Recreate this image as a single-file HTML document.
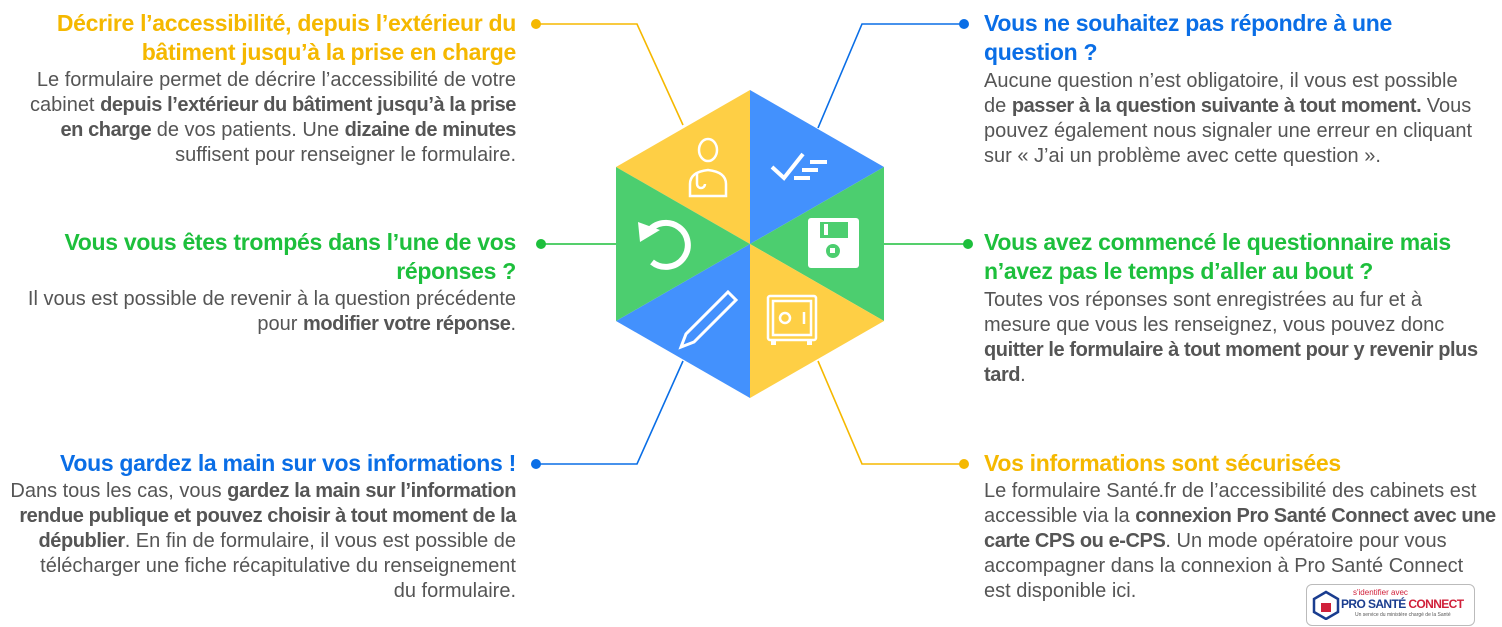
<!DOCTYPE html>
<html><head><meta charset="utf-8"><style>
body{margin:0;width:1502px;height:627px;background:#fff;position:relative;overflow:hidden;font-family:"Liberation Sans",sans-serif}
.l{position:absolute;white-space:nowrap;font-size:20px;color:#555;line-height:25px}
.L{right:986px;text-align:right}
.R{left:984px;text-align:left}
.h{font-weight:bold;font-size:23px;letter-spacing:-0.3px;line-height:29px}
b{color:#555;letter-spacing:-0.42px}
.y{color:#f5b800}.bl{color:#0a6ee6}.g{color:#1dbf3c}
</style></head><body>
<svg width="1502" height="627" style="position:absolute;left:0;top:0">
<g fill="none" stroke-width="1.6">
<polyline points="683,125 637,24 536,24" stroke="#f5b800"/>
<polyline points="818,128 862,24 964,24" stroke="#0a6ee6"/>
<polyline points="616,244 541,244" stroke="#1dbf3c"/>
<polyline points="884,244 968,244" stroke="#1dbf3c"/>
<polyline points="683,361 637,464 536,464" stroke="#0a6ee6"/>
<polyline points="818,361 862,464 964,464" stroke="#f5b800"/>
</g>
<circle cx="536" cy="24" r="5" fill="#f5b800"/><circle cx="964" cy="24" r="5" fill="#0a6ee6"/>
<circle cx="541" cy="244" r="5" fill="#1dbf3c"/><circle cx="968" cy="244" r="5" fill="#1dbf3c"/>
<circle cx="536" cy="464" r="5" fill="#0a6ee6"/><circle cx="964" cy="464" r="5" fill="#f5b800"/>
<polygon points="750,244 750,90 616,167" fill="#fecf45"/>
<polygon points="750,244 750,90 884,167" fill="#4391fd"/>
<polygon points="750,244 884,167 884,321" fill="#4cce6f"/>
<polygon points="750,244 884,321 750,398" fill="#fecf45"/>
<polygon points="750,244 750,398 616,321" fill="#4391fd"/>
<polygon points="750,244 616,321 616,167" fill="#4cce6f"/>
<g fill="none" stroke="#fff" stroke-width="2.5">
<ellipse cx="708" cy="150" rx="9" ry="11"/>
<path d="M690,196 v-12 q0,-12 18,-14 q18,2 18,14 v12 z"/>
<path d="M697,172 v12 a4,4 0 0 0 8,0"/>
</g>
<g stroke="#fff" stroke-width="4" fill="none"><polyline points="772,167 784,178 803,154"/><line x1="810" y1="162" x2="827" y2="162"/><line x1="802" y1="170" x2="818" y2="170"/><line x1="794" y1="178" x2="810" y2="178"/></g>
<rect x="808" y="218" width="51" height="50" rx="3" fill="#fff"/>
<rect x="820" y="222" width="28" height="16" fill="#4cce6f"/><rect x="824" y="224" width="4" height="11" fill="#fff"/>
<circle cx="833" cy="251" r="7" fill="#4cce6f"/><rect x="830" y="248" width="5" height="5" fill="#fff"/>
<path d="M648,232 A22,22 0 1 1 652,262" fill="none" stroke="#fff" stroke-width="6"/>
<polygon points="638,222 660,230 640,242" fill="#fff"/>
<g fill="none" stroke="#fff" stroke-width="3"><path d="M728,292 l8,8 l-42,42 l-13,5 l5,-13 z"/></g>
<g fill="none" stroke="#fff" stroke-width="2.5"><rect x="768" y="296" width="48" height="44" rx="2"/><rect x="773" y="301" width="38" height="34"/><circle cx="785" cy="318" r="5"/><line x1="804" y1="312" x2="804" y2="324"/></g>
<rect x="771" y="340" width="5" height="5" fill="#fff"/><rect x="807" y="340" width="5" height="5" fill="#fff"/>
</svg>

<div class="l L h y" style="top:9px">Décrire l’accessibilité, depuis l’extérieur du</div>
<div class="l L h y" style="top:38px">bâtiment jusqu’à la prise en charge</div>
<div class="l L" style="top:68px">Le formulaire permet de décrire l’accessibilité de votre</div>
<div class="l L" style="top:93px">cabinet <b>depuis l’extérieur du bâtiment jusqu’à la prise</b></div>
<div class="l L" style="top:118px"><b>en charge</b> de vos patients. Une <b>dizaine de minutes</b></div>
<div class="l L" style="top:143px">suffisent pour renseigner le formulaire.</div>

<div class="l L h g" style="top:228px">Vous vous êtes trompés dans l’une de vos</div>
<div class="l L h g" style="top:257px">réponses ?</div>
<div class="l L" style="top:287px">Il vous est possible de revenir à la question précédente</div>
<div class="l L" style="top:312px">pour <b>modifier votre réponse</b>.</div>

<div class="l L h bl" style="top:449px">Vous gardez la main sur vos informations !</div>
<div class="l L" style="top:479px">Dans tous les cas, vous <b>gardez la main sur l’information</b></div>
<div class="l L" style="top:504px"><b>rendue publique et pouvez choisir à tout moment de la</b></div>
<div class="l L" style="top:529px"><b>dépublier</b>. En fin de formulaire, il vous est possible de</div>
<div class="l L" style="top:554px">télécharger une fiche récapitulative du renseignement</div>
<div class="l L" style="top:579px">du formulaire.</div>

<div class="l R h bl" style="top:9px">Vous ne souhaitez pas répondre à une</div>
<div class="l R h bl" style="top:38px">question ?</div>
<div class="l R" style="top:69px">Aucune question n’est obligatoire, il vous est possible</div>
<div class="l R" style="top:94px">de <b>passer à la question suivante à tout moment.</b> Vous</div>
<div class="l R" style="top:119px">pouvez également nous signaler une erreur en cliquant</div>
<div class="l R" style="top:144px">sur « J’ai un problème avec cette question ».</div>

<div class="l R h g" style="top:228px">Vous avez commencé le questionnaire mais</div>
<div class="l R h g" style="top:257px">n’avez pas le temps d’aller au bout ?</div>
<div class="l R" style="top:288px">Toutes vos réponses sont enregistrées au fur et à</div>
<div class="l R" style="top:313px">mesure que vous les renseignez, vous pouvez donc</div>
<div class="l R" style="top:338px"><b>quitter le formulaire à tout moment pour y revenir plus</b></div>
<div class="l R" style="top:363px"><b>tard</b>.</div>

<div class="l R h y" style="top:449px">Vos informations sont sécurisées</div>
<div class="l R" style="top:479px">Le formulaire Santé.fr de l’accessibilité des cabinets est</div>
<div class="l R" style="top:504px">accessible via la <b>connexion Pro Santé Connect avec une</b></div>
<div class="l R" style="top:529px"><b>carte CPS ou e-CPS</b>. Un mode opératoire pour vous</div>
<div class="l R" style="top:554px">accompagner dans la connexion à Pro Santé Connect</div>
<div class="l R" style="top:579px">est disponible ici.</div>

<div style="position:absolute;left:1306px;top:584px;width:167px;height:40px;border:1px solid #bbb;border-radius:6px;background:#fff;overflow:hidden">
<svg width="30" height="30" style="position:absolute;left:4px;top:5px"><polygon points="15,2 27,9 27,22 15,29 3,22 3,9" fill="none" stroke="#1a3d8f" stroke-width="2.5"/><rect x="10" y="13" width="10" height="9" fill="#d0203a"/></svg>
<div style="position:absolute;left:46px;top:3px;font-size:8px;color:#d0203a">s'identifier avec</div>
<div style="position:absolute;left:34px;top:12px;font-size:12px;font-weight:bold;color:#1a3d8f;white-space:nowrap;letter-spacing:-0.6px">PRO SANTÉ <span style="color:#d0203a">CONNECT</span></div>
<div style="position:absolute;left:48px;top:27px;font-size:5px;color:#555;white-space:nowrap">Un service du ministère chargé de la Santé</div>
</div>
</body></html>
